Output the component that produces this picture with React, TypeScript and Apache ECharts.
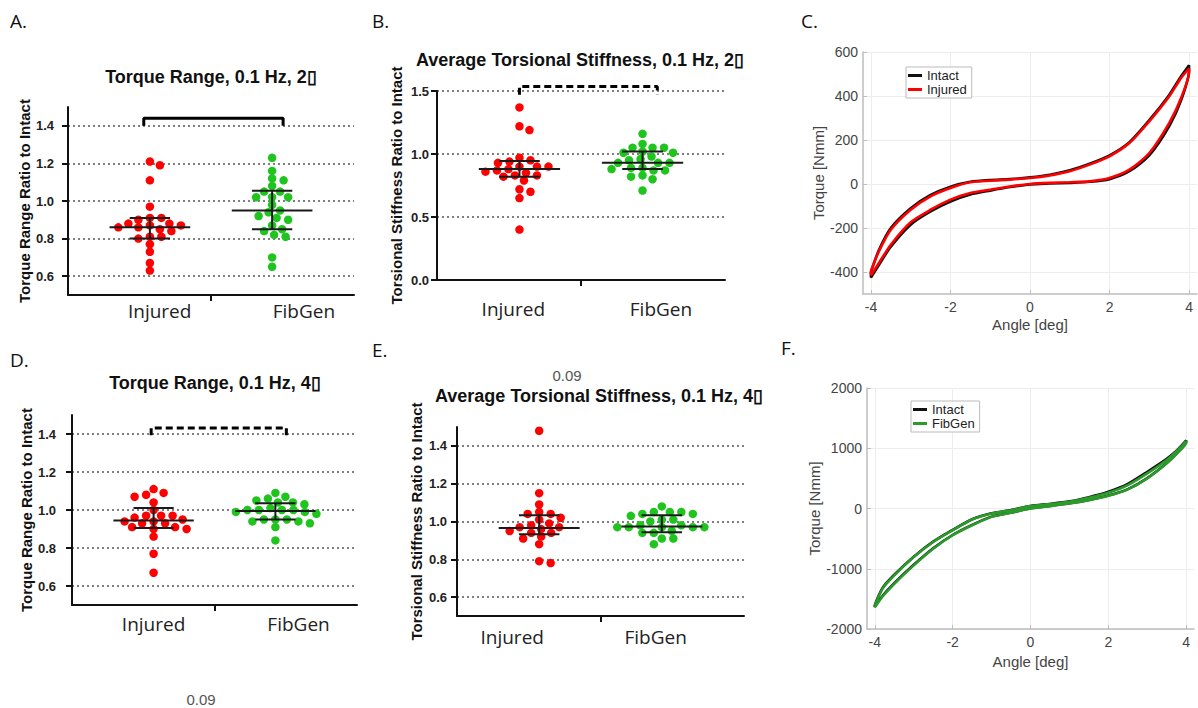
import React, { useEffect, useRef } from "react";
import * as echarts from "echarts";

// ---------- data ----------
const GROUPS = ["Injured", "FibGen"];

// Panel A: Torque Range, 0.1 Hz, 2 deg
const A_INJURED = [1.19, 1.21, 1.11, 0.97, 0.91, 0.91, 0.9, 0.88, 0.88, 0.86, 0.87, 0.87, 0.85, 0.84, 0.86, 0.81, 0.8, 0.81, 0.77, 0.73, 0.67, 0.63];
const A_FIBGEN = [1.23, 1.16, 1.11, 1.12, 1.05, 1.08, 1.05, 1.02, 1.02, 1.02, 0.98, 0.95, 0.94, 0.91, 0.9, 0.92, 0.87, 0.85, 0.84, 0.82, 0.81, 0.7, 0.65];
const A_MEAN = [0.86, 0.95];
const A_LOW = [0.8, 0.85];
const A_HIGH = [0.91, 1.055];

// Panel B: Average Torsional Stiffness, 0.1 Hz, 2 deg
const B_INJURED = [1.37, 1.19, 1.22, 0.95, 0.93, 0.94, 0.97, 0.87, 0.85, 0.9, 0.9, 0.9, 0.86, 0.88, 0.83, 0.79, 0.82, 0.83, 0.7, 0.72, 0.65, 0.4];
const B_FIBGEN = [1.16, 1.05, 1.05, 1.08, 1.05, 1.01, 1.02, 1.01, 0.98, 0.96, 0.93, 0.93, 0.93, 0.95, 0.89, 0.87, 0.88, 0.89, 0.83, 0.82, 0.8, 0.71, 0.87];
const B_MEAN = [0.88, 0.93];
const B_LOW = [0.82, 0.88];
const B_HIGH = [0.945, 1.02];

// Panel D: Torque Range, 0.1 Hz, 4 deg
const D_INJURED = [1.11, 1.08, 1.07, 1.09, 1.04, 1.0, 0.97, 0.96, 0.97, 0.97, 0.94, 0.95, 0.93, 0.93, 0.94, 0.91, 0.9, 0.9, 0.91, 0.86, 0.77, 0.67];
const D_FIBGEN = [1.09, 1.06, 1.05, 1.07, 1.04, 1.03, 1.04, 1.01, 1.0, 1.0, 0.99, 0.98, 0.99, 1.0, 1.0, 0.95, 0.94, 0.93, 0.91, 0.94, 0.95, 0.95, 0.84];
const D_MEAN = [0.945, 0.995];
const D_LOW = [0.905, 0.95];
const D_HIGH = [1.01, 1.035];

// Panel E: Average Torsional Stiffness, 0.1 Hz, 4 deg
const E_INJURED = [1.48, 1.15, 1.09, 1.04, 1.02, 1.01, 1.04, 1.05, 0.98, 0.97, 0.99, 0.97, 0.94, 0.94, 0.95, 0.96, 0.91, 0.92, 0.88, 0.78, 0.79];
const E_FIBGEN = [1.08, 1.05, 1.05, 1.04, 1.03, 1.04, 1.05, 1.01, 1.01, 1.0, 0.97, 0.97, 0.97, 0.98, 0.98, 0.97, 0.97, 0.94, 0.94, 0.95, 0.91, 0.91, 0.88];
const E_MEAN = [0.965, 0.973];
const E_LOW = [0.933, 0.943];
const E_HIGH = [1.033, 1.033];

const RANGE_TICKS = [0.6, 0.8, 1.0, 1.2, 1.4];
const STIFF2_TICKS = [0, 0.5, 1.0, 1.5];

// Panels C and F: torque vs angle hysteresis loops
const ANGLES = [-4, -3.8, -3.5, -3, -2.5, -2, -1.5, -1, -0.5, 0, 0.5, 1, 1.5, 2, 2.5, 3, 3.5, 3.8, 4];
const C_INTACT_UP = [-400, -300, -200, -110, -50, -12, 10, 18, 22, 30, 42, 62, 92, 130, 190, 290, 405, 490, 540];
const C_INTACT_DOWN = [-425, -368, -285, -185, -125, -80, -48, -30, -14, -2, 2, 5, 10, 22, 58, 130, 262, 380, 515];
const C_INJURED_UP = [-395, -306, -208, -117, -56, -18, 8, 15, 20, 27, 39, 58, 88, 126, 186, 285, 398, 482, 525];
const C_INJURED_DOWN = [-415, -359, -276, -174, -117, -71, -41, -26, -11, 0, 5, 8, 12, 27, 65, 141, 277, 391, 510];

const F_INTACT_UP = [-1600, -1320, -1100, -800, -550, -355, -178, -80, -25, 42, 76, 118, 188, 278, 410, 610, 825, 990, 1130];
const F_INTACT_DOWN = [-1630, -1450, -1240, -935, -660, -440, -272, -135, -68, 3, 42, 86, 142, 215, 322, 505, 755, 945, 1105];
const F_FIBGEN_UP = [-1610, -1330, -1111, -806, -556, -361, -183, -83, -28, 39, 72, 111, 178, 261, 389, 583, 806, 980, 1120];
const F_FIBGEN_DOWN = [-1640, -1460, -1250, -944, -667, -444, -278, -139, -72, 0, 39, 83, 139, 211, 317, 500, 750, 940, 1100];

const C_Y_TICKS = [-400, -200, 0, 200, 400, 600];
const F_Y_TICKS = [-2000, -1000, 0, 1000, 2000];
const ANGLE_TICKS = [-4, -2, 0, 2, 4];

// ---------- styling ----------
const ARIAL = '"Liberation Sans", Arial, sans-serif';
const CAL = '"Open Sans", "Noto Sans", sans-serif';
const RED = "#ff0000";
const GREEN = "#1fc41f";
const LOOP_GREEN = "#2a9a2a";
const XMIN = 0.33;
const XMAX = 2.67;
const MEAN_HALF = 0.33;
const CAP_HALF = 0.165;
const DOT = 8.5;
const GAP_X = 11.5;
const GAP_Y = 7.5;

// Prism-like column scatter: points that are close vertically are set side by side
function swarm(values: number[], center: number, pxX: number, pxY: number) {
  const placed: { x: number; y: number }[] = [];
  const order = values.map((_, i) => i).sort((a, b) => values[b] - values[a]);
  const out: number[][] = new Array(values.length);
  const free = (dx: number, y: number) =>
    placed.every((p) => {
      const u = (p.x - dx) / GAP_X;
      const v = (p.y - y) / GAP_Y;
      return u * u + v * v >= 1;
    });
  for (const i of order) {
    const y = values[i] * pxY;
    let best = 0;
    for (let k = 0; k < 600; k++) {
      const cands = k === 0 ? [0] : [k * 0.5, -k * 0.5];
      let found: number | null = null;
      for (const dx of cands) {
        if (free(dx, y)) {
          found = dx;
          break;
        }
      }
      if (found !== null) {
        best = found;
        break;
      }
    }
    placed.push({ x: best, y });
    out[i] = [center + best / pxX, values[i]];
  }
  return out;
}

function loop(angles: number[], up: number[], down: number[]) {
  const pts: number[][] = [];
  angles.forEach((a, i) => pts.push([a, up[i]]));
  for (let i = angles.length - 1; i >= 0; i--) pts.push([angles[i], down[i]]);
  pts.push([angles[0], up[0]]);
  return pts;
}

const PRISM = [
  {
    grid: { left: 68, top: 107, width: 286, height: 188 },
    ymin: 0.5, ymax: 1.5, ticks: RANGE_TICKS,
    injured: A_INJURED, fibgen: A_FIBGEN, mean: A_MEAN, low: A_LOW, high: A_HIGH,
    yName: "Torque Range Ratio to Intact", labelPos: [1.08, 2.26], labelMargin: 6, tickMargin: 14,
    bracket: { x: [0.95, 2.09], y: [1.4, 1.44], dashed: false },
  },
  {
    grid: { left: 437, top: 91, width: 288, height: 189 },
    ymin: 0, ymax: 1.5, ticks: STIFF2_TICKS,
    injured: B_INJURED, fibgen: B_FIBGEN, mean: B_MEAN, low: B_LOW, high: B_HIGH,
    yName: "Torsional Stiffness Ratio to Intact", labelPos: [0.95, 2.15], labelMargin: 19, tickMargin: 8,
    bracket: { x: [1.0, 2.12], y: [1.47, 1.535], dashed: true },
  },
  {
    grid: { left: 72, top: 415, width: 285, height: 190 },
    ymin: 0.5, ymax: 1.5, ticks: RANGE_TICKS,
    injured: D_INJURED, fibgen: D_FIBGEN, mean: D_MEAN, low: D_LOW, high: D_HIGH,
    yName: "Torque Range Ratio to Intact", labelPos: [1.0, 2.19], labelMargin: 9, tickMargin: 16,
    bracket: { x: [0.98, 2.09], y: [1.393, 1.432], dashed: true },
  },
  {
    grid: { left: 457, top: 427, width: 287, height: 189 },
    ymin: 0.5, ymax: 1.5, ticks: RANGE_TICKS,
    injured: E_INJURED, fibgen: E_FIBGEN, mean: E_MEAN, low: E_LOW, high: E_HIGH,
    yName: "Torsional Stiffness Ratio to Intact", labelPos: [0.78, 1.95], labelMargin: 11, tickMargin: 10,
    bracket: null as any,
  },
];

function buildOption() {
  const grid: any[] = [];
  const xAxis: any[] = [];
  const yAxis: any[] = [];
  const series: any[] = [];

  PRISM.forEach((p, gi) => {
    grid.push({ ...p.grid, containLabel: false, outerBoundsMode: "none" });
    const pxX = p.grid.width / (XMAX - XMIN);
    const pxY = p.grid.height / (p.ymax - p.ymin);
    xAxis.push({
      gridIndex: gi, type: "value", min: XMIN, max: XMAX,
      axisLine: { show: true, onZero: false, lineStyle: { color: "#111", width: 2 } },
      axisTick: { show: true, inside: false, length: 6, customValues: [1.5], lineStyle: { color: "#111", width: 2 } },
      axisLabel: {
        show: true, customValues: p.labelPos, margin: p.labelMargin,
        formatter: (v: number) => (v < 1.5 ? GROUPS[0] : GROUPS[1]),
        fontFamily: CAL, fontSize: 19, color: "#222",
      },
      splitLine: { show: false },
    });
    yAxis.push({
      gridIndex: gi, type: "value", min: p.ymin, max: p.ymax,
      name: p.yName, nameLocation: "middle", nameRotate: 90, nameGap: 33,
      nameTextStyle: { fontFamily: ARIAL, fontWeight: "bold", fontSize: 15, color: "#111" },
      axisLine: { show: true, onZero: false, lineStyle: { color: "#111", width: 2 } },
      axisTick: { show: true, inside: false, length: 6, customValues: p.ticks, lineStyle: { color: "#111", width: 2 } },
      axisLabel: {
        show: true, customValues: p.ticks, margin: p.tickMargin,
        formatter: (v: number) => v.toFixed(1),
        fontFamily: ARIAL, fontWeight: "bold", fontSize: 13, color: "#222",
      },
      splitLine: { show: true, lineStyle: { color: "#555", width: 1.5, type: [2, 3] } },
    });
    series.push({
      name: GROUPS[0] + " ratio " + gi, type: "scatter", xAxisIndex: gi, yAxisIndex: gi,
      data: swarm(p.injured, 1, pxX, pxY), symbolSize: DOT,
      itemStyle: { color: RED, opacity: 1 }, z: 3, silent: true,
    });
    series.push({
      name: GROUPS[1] + " ratio " + gi, type: "scatter", xAxisIndex: gi, yAxisIndex: gi,
      data: swarm(p.fibgen, 2, pxX, pxY), symbolSize: DOT,
      itemStyle: { color: GREEN, opacity: 1 }, z: 3, silent: true,
    });
    series.push({
      name: "summary " + gi, type: "custom", xAxisIndex: gi, yAxisIndex: gi, z: 5, silent: true, clip: false,
      data: [0, 1].map((k) => [k + 1, p.mean[k], p.low[k], p.high[k]]),
      encode: { x: 0, y: 1 },
      renderItem: (_params: any, api: any) => {
        const c = api.value(0), m = api.value(1), lo = api.value(2), hi = api.value(3);
        const seg = (a: number[], b: number[]) => {
          const p1 = api.coord(a), p2 = api.coord(b);
          return { type: "line", shape: { x1: p1[0], y1: p1[1], x2: p2[0], y2: p2[1] }, style: { stroke: "#1a1a1a", lineWidth: 2 } };
        };
        return {
          type: "group",
          children: [
            seg([c - MEAN_HALF, m], [c + MEAN_HALF, m]),
            seg([c - CAP_HALF, lo], [c + CAP_HALF, lo]),
            seg([c - CAP_HALF, hi], [c + CAP_HALF, hi]),
            seg([c, lo], [c, hi]),
          ],
        };
      },
    });
    if (p.bracket) {
      const b = p.bracket;
      series.push({
        name: "bracket " + gi, type: "line", xAxisIndex: gi, yAxisIndex: gi, clip: false, silent: true,
        symbol: "none", z: 6,
        data: [[b.x[0], b.y[0]], [b.x[0], b.y[1]], [b.x[1], b.y[1]], [b.x[1], b.y[0]]],
        lineStyle: { color: "#000", width: 3, type: b.dashed ? [7, 4] : "solid" },
      });
    }
  });

  // MATLAB-style panels C (index 4) and F (index 5)
  const mat = [
    { grid: { left: 863, top: 52, width: 334, height: 242 }, ymin: -500, ymax: 600, yticks: C_Y_TICKS, nameGapY: 36, nameGapX: 23 },
    { grid: { left: 867, top: 388, width: 327, height: 241 }, ymin: -2000, ymax: 2000, yticks: F_Y_TICKS, nameGapY: 44, nameGapX: 25 },
  ];
  mat.forEach((m, k) => {
    const gi = 4 + k;
    grid.push({ ...m.grid, containLabel: false, outerBoundsMode: "none" });
    xAxis.push({
      gridIndex: gi, type: "value", min: -4.2, max: 4.2,
      name: "Angle [deg]", nameLocation: "middle", nameGap: m.nameGapX,
      nameTextStyle: { fontFamily: ARIAL, fontSize: 15, color: "#444" },
      axisLine: { show: true, onZero: false, lineStyle: { color: "#bdbdbd", width: 1.5 } },
      axisTick: { show: true, inside: true, length: 4, customValues: ANGLE_TICKS, lineStyle: { color: "#bdbdbd" } },
      axisLabel: { show: true, customValues: ANGLE_TICKS, margin: 6, formatter: (v: number) => String(v), fontFamily: ARIAL, fontSize: 14, color: "#444" },
      splitLine: { show: true, lineStyle: { color: "#ededed", width: 1 } },
    });
    yAxis.push({
      gridIndex: gi, type: "value", min: m.ymin, max: m.ymax,
      name: "Torque [Nmm]", nameLocation: "middle", nameRotate: 90, nameGap: m.nameGapY,
      nameTextStyle: { fontFamily: ARIAL, fontSize: 15, color: "#444" },
      axisLine: { show: true, onZero: false, lineStyle: { color: "#bdbdbd", width: 1.5 } },
      axisTick: { show: true, inside: true, length: 4, customValues: m.yticks, lineStyle: { color: "#bdbdbd" } },
      axisLabel: { show: true, customValues: m.yticks, margin: 5, formatter: (v: number) => String(v), fontFamily: ARIAL, fontSize: 14, color: "#444" },
      splitLine: { show: true, lineStyle: { color: "#ededed", width: 1 } },
    });
  });

  const lineSeries = (name: string, gi: number, data: number[][], color: string, z: number) => ({
    name, type: "line", xAxisIndex: gi, yAxisIndex: gi, data, symbol: "none", showSymbol: false,
    smooth: 0.25, silent: true, z, lineStyle: { color, width: 2.6 }, itemStyle: { color },
  });
  series.push(lineSeries("Intact", 4, loop(ANGLES, C_INTACT_UP, C_INTACT_DOWN), "#111", 2));
  series.push(lineSeries("Injured", 4, loop(ANGLES, C_INJURED_UP, C_INJURED_DOWN), RED, 3));
  series.push(lineSeries("Intact", 5, loop(ANGLES, F_INTACT_UP, F_INTACT_DOWN), "#111", 2));
  series.push(lineSeries("FibGen", 5, loop(ANGLES, F_FIBGEN_UP, F_FIBGEN_DOWN), LOOP_GREEN, 3));

  const legendBase = {
    orient: "vertical", icon: "rect", itemWidth: 14, itemHeight: 3, itemGap: 1, padding: [2, 5, 2, 2],
    borderColor: "#bbb", borderWidth: 1, backgroundColor: "#fff", selectedMode: false,
    textStyle: { fontFamily: ARIAL, fontSize: 13, color: "#222" },
  };

  const txt = (text: string, x: number, y: number, font: string, size: number, weight: string, color: string, align = "left") => ({
    type: "text", x, y, silent: true,
    style: { text, fontFamily: font, fontSize: size, fontWeight: weight, fill: color, align, verticalAlign: "middle" },
  });

  return {
    animation: false,
    backgroundColor: "#fff",
    grid, xAxis, yAxis, series,
    legend: [
      { ...legendBase, data: ["Intact", "Injured"], left: 906, top: 67 },
      { ...legendBase, data: ["Intact", "FibGen"], left: 911, top: 401 },
    ],
    graphic: [
      txt("A.", 10, 21, CAL, 19, "normal", "#111"),
      txt("B.", 372, 21, CAL, 19, "normal", "#111"),
      txt("C.", 801, 21, CAL, 19, "normal", "#111"),
      txt("D.", 10, 360, CAL, 19, "normal", "#111"),
      txt("E.", 372, 350, CAL, 19, "normal", "#111"),
      txt("F.", 781, 348, CAL, 19, "normal", "#111"),
      txt("Torque Range, 0.1 Hz, 2\u25AF", 211, 77, ARIAL, 18, "bold", "#111", "center"),
      txt("Average Torsional Stiffness, 0.1 Hz, 2\u25AF", 416, 60, ARIAL, 18, "bold", "#111"),
      txt("Torque Range, 0.1 Hz, 4\u25AF", 215, 383, ARIAL, 18, "bold", "#111", "center"),
      txt("Average Torsional Stiffness, 0.1 Hz, 4\u25AF", 435, 396, ARIAL, 18, "bold", "#111"),
      txt("0.09", 567, 375, ARIAL, 15, "normal", "#555", "center"),
      txt("0.09", 201, 699, ARIAL, 15, "normal", "#555", "center"),
    ],
  };
}

export default function App() {
  const ref = useRef<HTMLDivElement>(null);
  useEffect(() => {
    document.body.style.margin = "0";
    if (!ref.current) return;
    const chart = echarts.init(ref.current, undefined, { renderer: "svg" });
    chart.setOption(buildOption() as any);
    return () => chart.dispose();
  }, []);
  return <div ref={ref} style={{ width: 1198, height: 708, background: "#fff" }} />;
}
